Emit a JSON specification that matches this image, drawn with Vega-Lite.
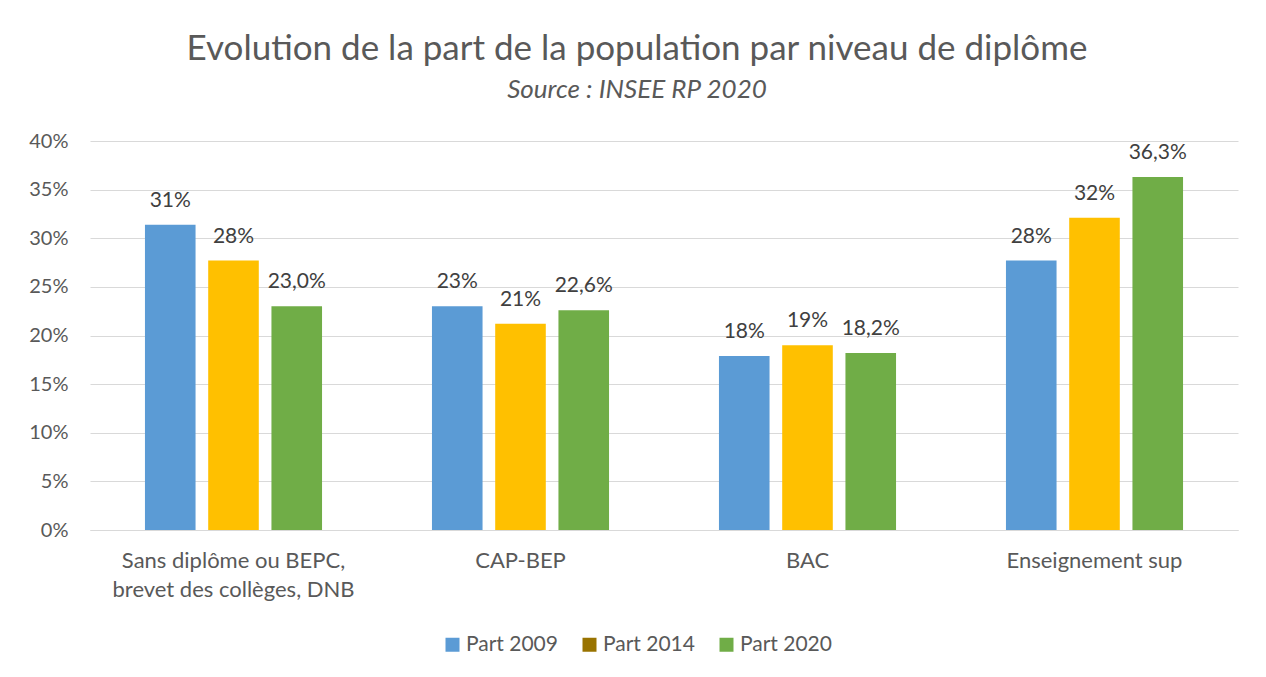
{
  "$schema": "https://vega.github.io/schema/vega-lite/v6.json",
  "autosize": {"type": "none"},
  "width": 1148,
  "height": 389,
  "padding": {"left": 90, "top": 141, "right": 28, "bottom": 147},
  "background": "white",
  "title": {
    "text": "Evolution de la part de la population par niveau de diplôme",
    "subtitle": "Source : INSEE RP 2020",
    "anchor": "middle",
    "dx": -27,
    "offset": 28,
    "font": "Lato",
    "fontSize": 35,
    "fontWeight": "normal",
    "color": "#595959",
    "subtitleFont": "Lato",
    "subtitleFontSize": 26,
    "subtitleFontStyle": "italic",
    "subtitleColor": "#595959",
    "subtitlePadding": 10
  },
  "data": {
    "values": [
      {"niveau": "Sans diplôme ou BEPC, brevet des collèges, DNB", "serie": "Part 2009", "valeur": 0.314, "etiquette": "31%"},
      {"niveau": "Sans diplôme ou BEPC, brevet des collèges, DNB", "serie": "Part 2014", "valeur": 0.277, "etiquette": "28%"},
      {"niveau": "Sans diplôme ou BEPC, brevet des collèges, DNB", "serie": "Part 2020", "valeur": 0.230, "etiquette": "23,0%"},
      {"niveau": "CAP-BEP", "serie": "Part 2009", "valeur": 0.230, "etiquette": "23%"},
      {"niveau": "CAP-BEP", "serie": "Part 2014", "valeur": 0.212, "etiquette": "21%"},
      {"niveau": "CAP-BEP", "serie": "Part 2020", "valeur": 0.226, "etiquette": "22,6%"},
      {"niveau": "BAC", "serie": "Part 2009", "valeur": 0.179, "etiquette": "18%"},
      {"niveau": "BAC", "serie": "Part 2014", "valeur": 0.190, "etiquette": "19%"},
      {"niveau": "BAC", "serie": "Part 2020", "valeur": 0.182, "etiquette": "18,2%"},
      {"niveau": "Enseignement sup", "serie": "Part 2009", "valeur": 0.277, "etiquette": "28%"},
      {"niveau": "Enseignement sup", "serie": "Part 2014", "valeur": 0.321, "etiquette": "32%"},
      {"niveau": "Enseignement sup", "serie": "Part 2020", "valeur": 0.363, "etiquette": "36,3%"}
    ]
  },
  "encoding": {
    "x": {
      "field": "niveau",
      "type": "nominal",
      "sort": null,
      "scale": {"paddingInner": 0.383, "paddingOuter": 0.1915},
      "axis": {
        "title": null,
        "labelAngle": 0,
        "labelFont": "Lato",
        "labelFontSize": 22,
        "labelColor": "#595959",
        "labelPadding": 20,
        "labelBaseline": "top",
        "labelLineHeight": 29,
        "labelLimit": 400,
        "ticks": false,
        "domainColor": "#D9D9D9",
        "domainWidth": 1,
        "labelExpr": "datum.label == 'Sans diplôme ou BEPC, brevet des collèges, DNB' ? ['Sans diplôme ou BEPC,', 'brevet des collèges, DNB'] : datum.label"
      }
    },
    "xOffset": {
      "field": "serie",
      "type": "nominal",
      "sort": null,
      "scale": {"paddingInner": 0.2, "paddingOuter": 0}
    },
    "y": {
      "field": "valeur",
      "type": "quantitative",
      "scale": {"domain": [0, 0.4], "nice": false},
      "axis": {
        "title": null,
        "values": [0, 0.05, 0.1, 0.15, 0.2, 0.25, 0.3, 0.35, 0.4],
        "format": ".0%",
        "labelFont": "Lato",
        "labelFontSize": 20,
        "labelColor": "#595959",
        "labelPadding": 22,
        "ticks": false,
        "domain": false,
        "gridColor": "#D9D9D9",
        "gridWidth": 1
      }
    }
  },
  "layer": [
    {
      "mark": {"type": "bar"},
      "encoding": {
        "color": {
          "field": "serie",
          "type": "nominal",
          "sort": null,
          "scale": {"domain": ["Part 2009", "Part 2014", "Part 2020"], "range": ["#5B9BD5", "#FFC000", "#70AD47"]},
          "legend": null
        }
      }
    },
    {
      "mark": {"type": "bar"},
      "encoding": {
        "y": {"datum": 0},
        "y2": {"datum": 0},
        "color": {
          "field": "serie",
          "type": "nominal",
          "sort": null,
          "scale": {"domain": ["Part 2009", "Part 2014", "Part 2020"], "range": ["#5B9BD5", "#997300", "#70AD47"]},
          "legend": {
            "title": null,
            "orient": "none",
            "direction": "horizontal",
            "legendX": 352,
            "legendY": 493,
            "symbolType": "square",
            "symbolSize": 196,
            "symbolStrokeWidth": 0,
            "labelFont": "Lato",
            "labelFontSize": 21,
            "labelColor": "#595959",
            "labelOffset": 3,
            "columnPadding": 21
          }
        }
      }
    },
    {
      "mark": {"type": "text", "baseline": "alphabetic", "dy": -18, "font": "Lato", "fontSize": 21, "color": "#404040"},
      "encoding": {
        "text": {"field": "etiquette", "type": "nominal"}
      }
    }
  ],
  "resolve": {"scale": {"color": "independent"}, "legend": {"color": "independent"}},
  "config": {
    "view": {"stroke": null}
  }
}
